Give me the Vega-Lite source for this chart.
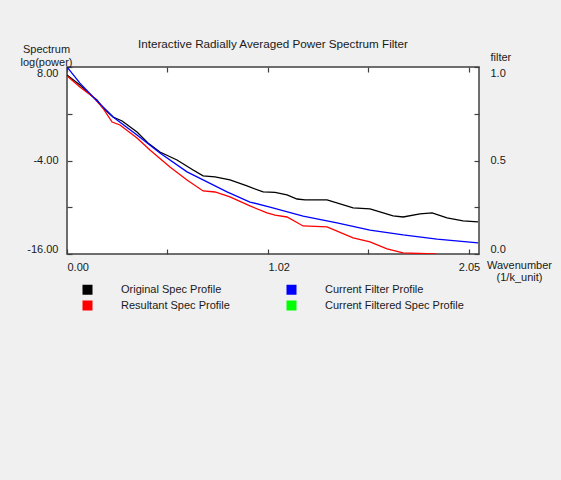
{
  "$schema": "https://vega.github.io/schema/vega-lite/v6.json",
  "width": 412,
  "height": 187,
  "autosize": {"type": "none"},
  "padding": {"left": 67, "top": 67, "right": 82, "bottom": 226},
  "background": "#f0f0f0",
  "title": {"text": "Interactive Radially Averaged Power Spectrum Filter", "fontSize": 11.7, "fontWeight": "normal", "font": "Liberation Sans", "color": "#1a1a1a", "offset": -8, "anchor": "middle", "frame": "group"},
  "data": {"values": [
    {"series": "Original Spec Profile", "k": 0, "v": 6.97},
    {"series": "Original Spec Profile", "k": 0.066, "v": 5.69},
    {"series": "Original Spec Profile", "k": 0.133, "v": 4.15},
    {"series": "Original Spec Profile", "k": 0.153, "v": 3.77},
    {"series": "Original Spec Profile", "k": 0.179, "v": 2.87},
    {"series": "Original Spec Profile", "k": 0.235, "v": 1.58},
    {"series": "Original Spec Profile", "k": 0.281, "v": 1.07},
    {"series": "Original Spec Profile", "k": 0.357, "v": -0.34},
    {"series": "Original Spec Profile", "k": 0.413, "v": -1.75},
    {"series": "Original Spec Profile", "k": 0.474, "v": -2.91},
    {"series": "Original Spec Profile", "k": 0.561, "v": -3.93},
    {"series": "Original Spec Profile", "k": 0.643, "v": -5.21},
    {"series": "Original Spec Profile", "k": 0.694, "v": -5.98},
    {"series": "Original Spec Profile", "k": 0.755, "v": -6.11},
    {"series": "Original Spec Profile", "k": 0.831, "v": -6.5},
    {"series": "Original Spec Profile", "k": 0.918, "v": -7.27},
    {"series": "Original Spec Profile", "k": 1.0, "v": -8.04},
    {"series": "Original Spec Profile", "k": 1.061, "v": -8.1},
    {"series": "Original Spec Profile", "k": 1.122, "v": -8.42},
    {"series": "Original Spec Profile", "k": 1.173, "v": -8.94},
    {"series": "Original Spec Profile", "k": 1.214, "v": -9.06},
    {"series": "Original Spec Profile", "k": 1.326, "v": -9.06},
    {"series": "Original Spec Profile", "k": 1.459, "v": -10.09},
    {"series": "Original Spec Profile", "k": 1.545, "v": -10.22},
    {"series": "Original Spec Profile", "k": 1.663, "v": -11.12},
    {"series": "Original Spec Profile", "k": 1.714, "v": -11.25},
    {"series": "Original Spec Profile", "k": 1.8, "v": -10.86},
    {"series": "Original Spec Profile", "k": 1.862, "v": -10.73},
    {"series": "Original Spec Profile", "k": 1.938, "v": -11.37},
    {"series": "Original Spec Profile", "k": 2.02, "v": -11.76},
    {"series": "Original Spec Profile", "k": 2.096, "v": -11.89},
    {"series": "Resultant Spec Profile", "k": 0, "v": 6.85},
    {"series": "Resultant Spec Profile", "k": 0.066, "v": 5.43},
    {"series": "Resultant Spec Profile", "k": 0.133, "v": 4.15},
    {"series": "Resultant Spec Profile", "k": 0.179, "v": 2.87},
    {"series": "Resultant Spec Profile", "k": 0.23, "v": 0.94},
    {"series": "Resultant Spec Profile", "k": 0.27, "v": 0.56},
    {"series": "Resultant Spec Profile", "k": 0.357, "v": -1.11},
    {"series": "Resultant Spec Profile", "k": 0.423, "v": -2.65},
    {"series": "Resultant Spec Profile", "k": 0.525, "v": -4.83},
    {"series": "Resultant Spec Profile", "k": 0.612, "v": -6.5},
    {"series": "Resultant Spec Profile", "k": 0.694, "v": -7.91},
    {"series": "Resultant Spec Profile", "k": 0.755, "v": -8.04},
    {"series": "Resultant Spec Profile", "k": 0.831, "v": -8.68},
    {"series": "Resultant Spec Profile", "k": 0.933, "v": -9.83},
    {"series": "Resultant Spec Profile", "k": 1.02, "v": -10.73},
    {"series": "Resultant Spec Profile", "k": 1.061, "v": -11.0},
    {"series": "Resultant Spec Profile", "k": 1.122, "v": -11.25},
    {"series": "Resultant Spec Profile", "k": 1.204, "v": -12.4},
    {"series": "Resultant Spec Profile", "k": 1.326, "v": -12.53},
    {"series": "Resultant Spec Profile", "k": 1.459, "v": -13.94},
    {"series": "Resultant Spec Profile", "k": 1.545, "v": -14.45},
    {"series": "Resultant Spec Profile", "k": 1.632, "v": -15.35},
    {"series": "Resultant Spec Profile", "k": 1.714, "v": -15.86},
    {"series": "Resultant Spec Profile", "k": 1.877, "v": -16.0},
    {"series": "Resultant Spec Profile", "k": 1.953, "v": -16.6},
    {"series": "Resultant Spec Profile", "k": 2.096, "v": -17.2},
    {"series": "Current Filter Profile", "k": 0, "v": 1.0},
    {"series": "Current Filter Profile", "k": 0.066, "v": 0.914},
    {"series": "Current Filter Profile", "k": 0.133, "v": 0.84},
    {"series": "Current Filter Profile", "k": 0.235, "v": 0.733},
    {"series": "Current Filter Profile", "k": 0.357, "v": 0.636},
    {"series": "Current Filter Profile", "k": 0.474, "v": 0.54},
    {"series": "Current Filter Profile", "k": 0.612, "v": 0.439},
    {"series": "Current Filter Profile", "k": 0.694, "v": 0.396},
    {"series": "Current Filter Profile", "k": 0.816, "v": 0.332},
    {"series": "Current Filter Profile", "k": 0.933, "v": 0.278},
    {"series": "Current Filter Profile", "k": 1.035, "v": 0.251},
    {"series": "Current Filter Profile", "k": 1.204, "v": 0.203},
    {"series": "Current Filter Profile", "k": 1.377, "v": 0.166},
    {"series": "Current Filter Profile", "k": 1.545, "v": 0.128},
    {"series": "Current Filter Profile", "k": 1.714, "v": 0.102},
    {"series": "Current Filter Profile", "k": 1.887, "v": 0.08},
    {"series": "Current Filter Profile", "k": 2.096, "v": 0.059}
  ]},
  "layer": [
    {
      "transform": [{"filter": "datum.series !== 'Current Filter Profile'"}],
      "mark": {"type": "line", "strokeWidth": 1.3, "clip": true},
      "encoding": {
        "x": {"field": "k", "type": "quantitative", "scale": {"domain": [0, 2.101], "nice": false, "zero": false},
          "axis": {"orient": "bottom", "values": [0, 0.5125, 1.025, 1.5375, 2.05], "title": ["Wavenumber", "(1/k_unit)"],
            "labelExpr": "datum.value == 0 || datum.value == 1.025 || datum.value == 2.05 ? format(datum.value, '.2f') : ''",
            "labelAlign": {"condition": {"test": "datum.value > 2", "value": "center"}, "value": "left"},
            "labelPadding": 12, "titleAngle": 0, "titleAlign": "center", "titleBaseline": "top", "titleX": 452, "titleY": 5, "titleLineHeight": 12}},
        "y": {"field": "v", "type": "quantitative", "scale": {"domain": [-16, 8], "nice": false, "zero": false},
          "axis": {"orient": "left", "values": [8, 2, -4, -10, -16], "title": ["Spectrum", "log(power)"],
            "labelExpr": "datum.value == 2 || datum.value == -10 ? '' : replace(format(datum.value, '.2f'), '\u2212', '-')",
            "labelFlush": true, "labelPadding": 14, "titleAngle": 0, "titleAlign": "center", "titleBaseline": "bottom", "titleX": -21, "titleY": -13, "titleLineHeight": 13}},
        "color": {"field": "series", "type": "nominal",
          "scale": {"domain": ["Original Spec Profile", "Resultant Spec Profile", "Current Filter Profile", "Current Filtered Spec Profile"], "range": ["#000000", "#ff0000", "#0000ff", "#00ff00"]},
          "legend": {"orient": "none", "legendX": 15, "legendY": 217, "columns": 2, "title": null, "symbolType": "square", "symbolSize": 100, "symbolStrokeWidth": 0, "symbolOpacity": 1, "labelOffset": 28, "columnPadding": 56, "rowPadding": 4, "padding": 0, "labelFontSize": 11, "labelFont": "Liberation Sans", "labelColor": "#1a1a1a", "gridAlign": "each",
            "encode": {"symbols": {"update": {"fill": {"scale": "color", "field": "value"}, "stroke": {"value": "transparent"}, "fillOpacity": {"value": 1}}}}}}
      }
    },
    {
      "transform": [{"filter": "datum.series === 'Current Filter Profile'"}],
      "mark": {"type": "line", "strokeWidth": 1.3, "clip": true},
      "encoding": {
        "x": {"field": "k", "type": "quantitative", "scale": {"domain": [0, 2.101], "nice": false, "zero": false},
          "axis": {"orient": "top", "values": [0, 0.5125, 1.025, 1.5375, 2.05], "labels": false, "title": null}},
        "y": {"field": "v", "type": "quantitative", "scale": {"domain": [0, 1], "nice": false, "zero": false},
          "axis": {"orient": "right", "values": [0, 0.25, 0.5, 0.75, 1], "title": "filter",
            "labelExpr": "datum.value == 0.25 || datum.value == 0.75 ? '' : format(datum.value, '.1f')",
            "labelFlush": true, "labelPadding": 16, "labelAlign": "left", "titleAngle": 0, "titleAlign": "left", "titleBaseline": "middle", "titleX": 11, "titleY": -10}},
        "color": {"field": "series", "type": "nominal"}
      }
    }
  ],
  "resolve": {"scale": {"y": "independent"}, "axis": {"x": "independent"}},
  "config": {
    "font": "Liberation Sans",
    "view": {"fill": "white", "stroke": "#404040", "strokeWidth": 1.5},
    "axis": {"labelFont": "Liberation Sans", "labelFontSize": 11, "labelColor": "#1a1a1a", "titleFont": "Liberation Sans", "titleFontSize": 11, "titleFontWeight": "normal", "titleColor": "#1a1a1a", "tickColor": "#404040", "tickSize": -5, "tickWidth": 1.2, "domain": false, "grid": false}
  }
}
